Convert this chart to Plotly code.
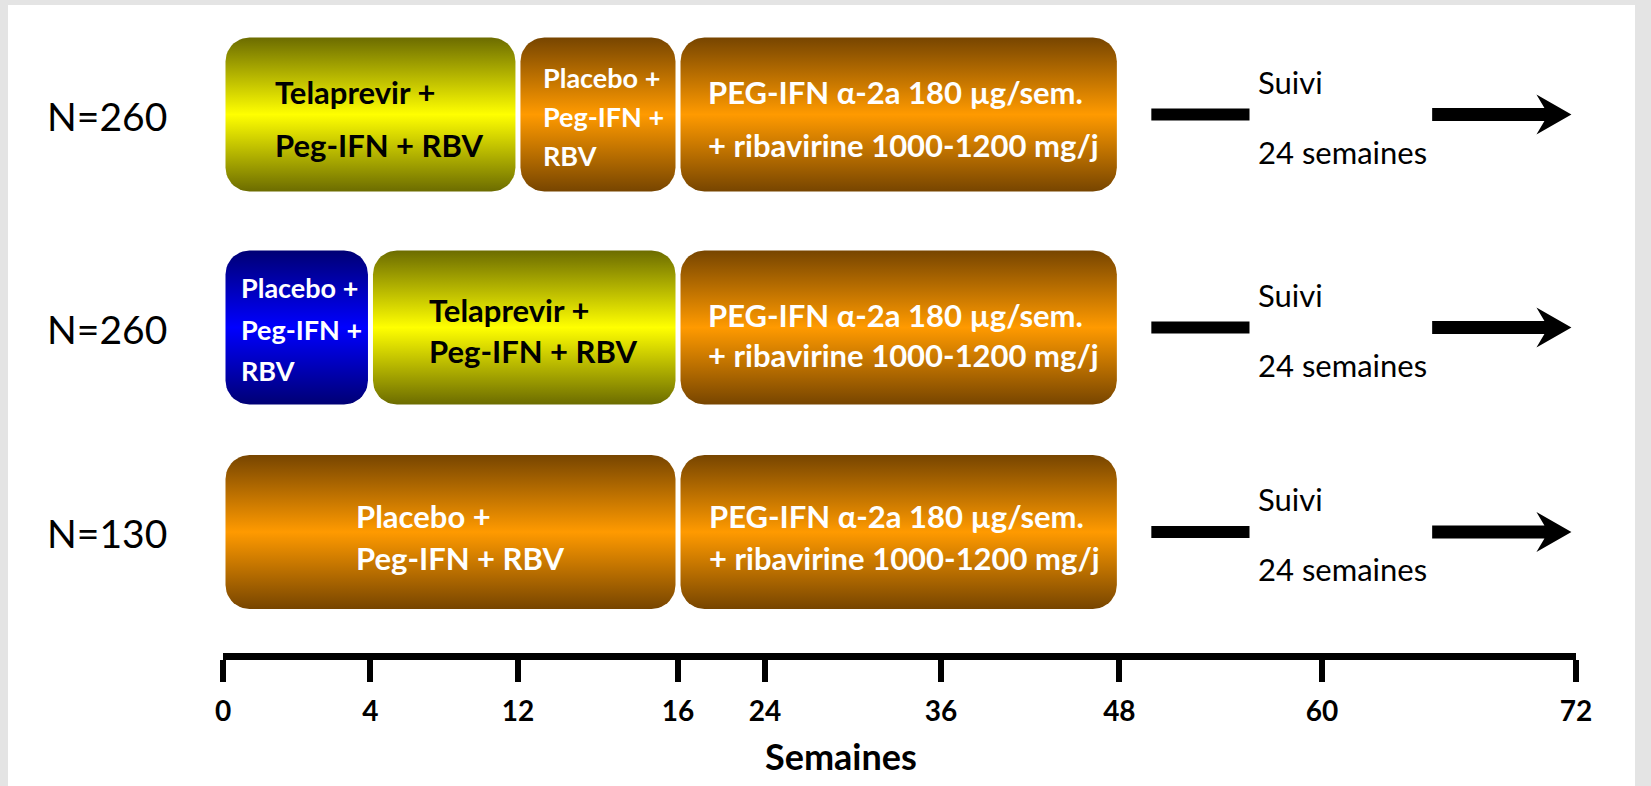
import numpy as np
import plotly.graph_objects as go

# ---------------- data ----------------
ARM_LABELS = ["N=260", "N=260", "N=130"]

# treatment blocks: arm index, start / end week, regimen, text lines
BLOCK_ARM = [0, 0, 0, 1, 1, 1, 2, 2]
BLOCK_START_WK = [0, 12, 16, 0, 4, 16, 0, 16]
BLOCK_END_WK = [12, 16, 48, 4, 16, 48, 16, 48]
BLOCK_REGIMEN = ["tvr", "pbo", "soc", "pbo_lead", "tvr", "soc", "pbo", "soc"]
BLOCK_TEXT = [
    ["Telaprevir +", "Peg-IFN + RBV"],
    ["Placebo +", "Peg-IFN +", "RBV"],
    ["PEG-IFN α-2a 180 µg/sem.", "+ ribavirine 1000-1200 mg/j"],
    ["Placebo +", "Peg-IFN +", "RBV"],
    ["Telaprevir +", "Peg-IFN + RBV"],
    ["PEG-IFN α-2a 180 µg/sem.", "+ ribavirine 1000-1200 mg/j"],
    ["Placebo +", "Peg-IFN + RBV"],
    ["PEG-IFN α-2a 180 µg/sem.", "+ ribavirine 1000-1200 mg/j"],
]

FOLLOWUP_START_WK = 48
FOLLOWUP_END_WK = 72
FOLLOWUP_TEXT = ["Suivi", "24 semaines"]

TICK_WEEKS = [0, 4, 12, 16, 24, 36, 48, 60, 72]
TICK_LABELS = ["0", "4", "12", "16", "24", "36", "48", "60", "72"]
X_TITLE = "Semaines"

# ---------------- layout ----------------
FIG_W, FIG_H = 1651, 786
PLOT_L, PLOT_R, PLOT_T, PLOT_B = 223, 1576, 0, 653
PLOT_W = PLOT_R - PLOT_L
PLOT_H = PLOT_B - PLOT_T
ROW_Y = [114.5, 327.5, 532.0]   # vertical centre of each arm row (px from top)

# the time axis is drawn piecewise: fraction of axis length at each tick week
SCALE_POS = [0.0, 0.109, 0.218, 0.3363, 0.4006, 0.5307, 0.6625, 0.8123, 1.0]

BOX_HALF_H = 77        # px
BOX_RADIUS = 24        # px
BOX_GAP = 5            # px between adjacent blocks

REGIMEN_STYLE = {
    "tvr": dict(dark="#6c6c00", bright="#ffff00", text="black"),
    "soc": dict(dark="#774500", bright="#ff9a00", text="white"),
    "pbo": dict(dark="#774500", bright="#ff9a00", text="white"),
    "pbo_lead": dict(dark="#000074", bright="#0000ff", text="white"),
}

# text block styling per block: font size, line pitch (px), vertical shift (px),
# half width of the text block (px) used to centre it in the block
BLOCK_FONT = [31, 27, 31, 27, 31, 31, 31, 31]
BLOCK_PITCH = [52.6, 39, 52.6, 41.5, 41, 40, 42, 42]
BLOCK_DY = [3.7, 1.6, 3.7, 1.7, 2.5, 7, 5, 5]
BLOCK_HALF_W = [97, 57, 193, 57.5, 97.5, 193, 97, 192]

# follow-up marks, as fractions of the follow-up span
FU_BAR = (0.07, 0.285)
FU_ARROW = (0.685, 0.99)
FU_TEXT_X = 0.3
FU_TEXT_DY = (-33, 37)

FONT = "Lato, 'Open Sans', sans-serif"


def wk(w):
    return float(np.interp(w, TICK_WEEKS, SCALE_POS))


def dx(p):
    return p / PLOT_W


def paper_x(px):
    return (px - PLOT_L) / PLOT_W


def paper_y(py):
    return (PLOT_B - py) / PLOT_H


def rounded_rect(x0, x1, yc, hh, r):
    rx = dx(r)
    top, bot = yc - hh, yc + hh
    xs, ys = [], []
    corners = [
        (x1 - rx, top + r, -np.pi / 2, 0),          # top right
        (x1 - rx, bot - r, 0, np.pi / 2),           # bottom right
        (x0 + rx, bot - r, np.pi / 2, np.pi),       # bottom left
        (x0 + rx, top + r, np.pi, 1.5 * np.pi),     # top left
    ]
    for cx, cy, a0, a1 in corners:
        t = np.linspace(a0, a1, 12)
        xs.extend(cx + rx * np.cos(t))
        ys.extend(cy + r * np.sin(t))
    xs.append(xs[0])
    ys.append(ys[0])
    return xs, ys


fig = go.Figure()
annotations = []

# treatment blocks
for i in range(len(BLOCK_ARM)):
    st = REGIMEN_STYLE[BLOCK_REGIMEN[i]]
    x0 = wk(BLOCK_START_WK[i]) + dx(BOX_GAP / 2)
    x1 = wk(BLOCK_END_WK[i]) - dx(BOX_GAP / 2)
    yc = ROW_Y[BLOCK_ARM[i]]
    xs, ys = rounded_rect(x0, x1, yc, BOX_HALF_H, BOX_RADIUS)
    fig.add_trace(go.Scatter(
        x=xs, y=ys, mode="lines", fill="toself",
        line=dict(width=0, color=st["dark"]),
        fillgradient=dict(type="vertical",
                          colorscale=[[0, st["dark"]], [0.5, st["bright"]], [1, st["dark"]]]),
        hoverinfo="skip", showlegend=False,
    ))
    lines = BLOCK_TEXT[i]
    n = len(lines)
    xc = (x0 + x1) / 2
    for k, txt in enumerate(lines):
        off = (k - (n - 1) / 2) * BLOCK_PITCH[i] + BLOCK_DY[i]
        annotations.append(dict(
            x=xc - dx(BLOCK_HALF_W[i]), y=yc + off, xref="x", yref="y",
            text=txt, showarrow=False, xanchor="left", yanchor="middle",
            font=dict(family=FONT, size=BLOCK_FONT[i], color=st["text"], weight="bold"),
        ))

# follow-up period: short bar, label, arrow
fu0, fu1 = wk(FOLLOWUP_START_WK), wk(FOLLOWUP_END_WK)
span = fu1 - fu0
for arm in range(len(ARM_LABELS)):
    yc = ROW_Y[arm]
    b0, b1 = fu0 + FU_BAR[0] * span, fu0 + FU_BAR[1] * span
    h = 6
    fig.add_trace(go.Scatter(
        x=[b0, b1, b1, b0, b0], y=[yc - h, yc - h, yc + h, yc + h, yc - h],
        mode="lines", fill="toself", fillcolor="black", line=dict(width=0),
        hoverinfo="skip", showlegend=False,
    ))
    a0, at = fu0 + FU_ARROW[0] * span, fu0 + FU_ARROW[1] * span
    hb = at - dx(35)
    sh, hh = 6.5, 20
    fig.add_trace(go.Scatter(
        x=[a0, hb + dx(8), hb, at, hb, hb + dx(8), a0, a0],
        y=[yc - sh, yc - sh, yc - hh, yc, yc + hh, yc + sh, yc + sh, yc - sh],
        mode="lines", fill="toself", fillcolor="black", line=dict(width=0),
        hoverinfo="skip", showlegend=False,
    ))
    for txt, off in zip(FOLLOWUP_TEXT, FU_TEXT_DY):
        annotations.append(dict(
            x=fu0 + FU_TEXT_X * span, y=yc + off, xref="x", yref="y",
            text=txt, showarrow=False, xanchor="left", yanchor="middle",
            font=dict(family=FONT, size=31, color="black"),
        ))
    # arm size label, left of the time axis
    annotations.append(dict(
        x=paper_x(45), y=paper_y(yc + 1), xref="paper", yref="paper",
        text=ARM_LABELS[arm], showarrow=False, xanchor="left", yanchor="middle",
        font=dict(family=FONT, size=39, color="black"),
    ))

# axis title, set slightly left of the axis centre
annotations.append(dict(
    x=paper_x(841), y=paper_y(756), xref="paper", yref="paper",
    text=X_TITLE, showarrow=False, xanchor="center", yanchor="middle",
    font=dict(family=FONT, size=36, color="black", weight="bold"),
))

shapes = [dict(
    type="rect", xref="paper", yref="paper", layer="below",
    x0=paper_x(8), x1=paper_x(1635),
    y0=paper_y(FIG_H + 5), y1=paper_y(5),
    fillcolor="white", line=dict(width=0),
)]

fig.update_layout(
    width=FIG_W, height=FIG_H,
    margin=dict(l=PLOT_L, r=FIG_W - PLOT_R, t=PLOT_T, b=FIG_H - PLOT_B, pad=0),
    paper_bgcolor="#e4e4e4", plot_bgcolor="rgba(0,0,0,0)",
    annotations=annotations, shapes=shapes, showlegend=False,
    xaxis=dict(
        range=[0, 1], tickvals=[wk(w) for w in TICK_WEEKS], ticktext=TICK_LABELS,
        ticks="outside", ticklen=22, tickwidth=6, tickcolor="black",
        showline=True, linewidth=7, linecolor="black",
        showgrid=False, zeroline=False, automargin=False, fixedrange=True,
        tickfont=dict(family=FONT, size=28, color="black", weight="bold"),
        ticklabelstandoff=5,
    ),
    yaxis=dict(
        range=[PLOT_B, PLOT_T],
        visible=False, showgrid=False, zeroline=False, fixedrange=True,
    ),
)

fig.write_html("out.html")
